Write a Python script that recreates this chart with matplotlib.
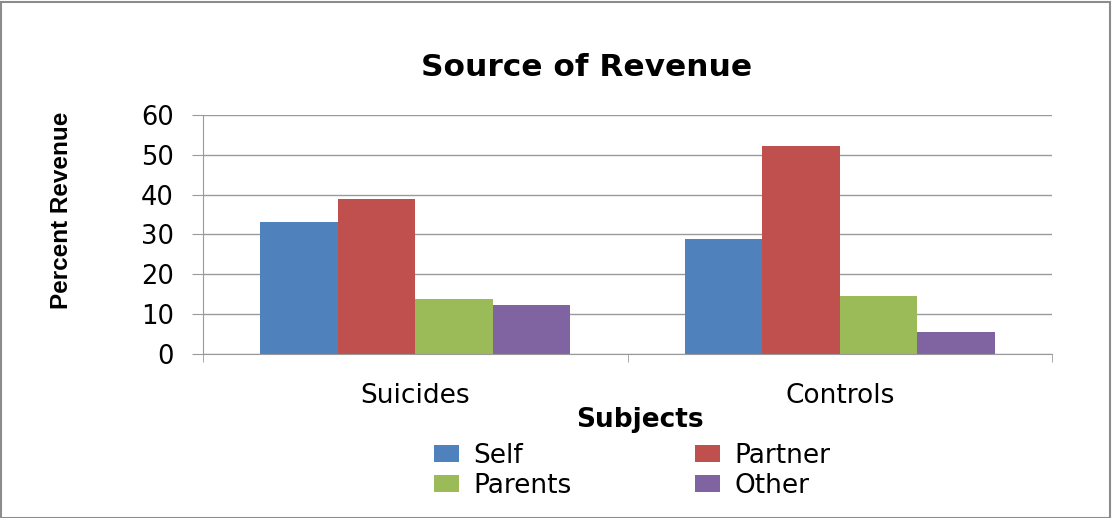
import matplotlib.pyplot as plt
import matplotlib.patches as mpatches
import numpy as np

subjects = ['Suicides', 'Controls']
sources = ['Self', 'Partner', 'Parents', 'Other']
revenue = {
    'Self': [33.2, 28.9],
    'Partner': [39.0, 52.3],
    'Parents': [13.8, 14.6],
    'Other': [12.3, 5.5],
}
colors = {
    'Self': '#4F81BD',
    'Partner': '#C0504D',
    'Parents': '#9BBB59',
    'Other': '#8064A2',
}
yticks = [0, 10, 20, 30, 40, 50, 60]

grid_gray = '#9a9a9a'

fig = plt.figure(figsize=(11.12, 5.18), dpi=100)
ax = fig.add_axes([0.1826, 0.3166, 0.946 - 0.1826, 0.778 - 0.3166])

x = np.arange(len(subjects))
w = 0.1825
bars = {}
for i, src in enumerate(sources):
    bars[src] = ax.bar(x + (i - 1.5) * w, revenue[src], width=w,
                       color=colors[src], label=src, zorder=2)

ax.set_xlim(-0.5, 1.5)
ax.set_ylim(0, 60)
ax.set_yticks(yticks)
ax.set_yticklabels([str(t) for t in yticks], fontsize=18.5, family='DejaVu Sans')
ax.set_xticks(x)
ax.set_xticklabels(subjects, fontsize=19, family='DejaVu Sans')
ax.set_xticks([-0.5, 0.5, 1.5], minor=True)

ax.tick_params(axis='y', length=8, color=grid_gray, pad=13)
ax.tick_params(axis='x', which='major', length=0, pad=21)
ax.tick_params(axis='x', which='minor', length=6, color=grid_gray)

ax.yaxis.grid(True, color=grid_gray, linewidth=1)
ax.set_axisbelow(True)
for side in ['top', 'right']:
    ax.spines[side].set_visible(False)
ax.spines['left'].set_color(grid_gray)
ax.spines['bottom'].set_color(grid_gray)

fig.text(587 / 1112, 1 - 68 / 518, 'Source of Revenue', ha='center', va='center',
         fontsize=22.5, fontweight='bold', family='DejaVu Sans')
fig.text(62 / 1112, 1 - 210 / 518, 'Percent Revenue', ha='center', va='center',
         rotation=90, fontsize=17.5, fontweight='bold', family='Liberation Sans')
fig.text(640 / 1112, 1 - 420 / 518, 'Subjects', ha='center', va='center',
         fontsize=19, fontweight='bold', family='DejaVu Sans')

# two single-column legends so the columns sit where they should
legend_kw = dict(loc='upper left', frameon=False, borderpad=0, borderaxespad=0,
                 labelspacing=0.14, handlelength=0.95, handleheight=0.6,
                 handletextpad=0.53, prop={'family': 'DejaVu Sans', 'size': 19})
fig.legend([bars['Self'], bars['Parents']], ['Self', 'Parents'],
           bbox_to_anchor=(434 / 1112, 1 - 443 / 518), **legend_kw)
fig.legend([bars['Partner'], bars['Other']], ['Partner', 'Other'],
           bbox_to_anchor=(695 / 1112, 1 - 443 / 518), **legend_kw)

# chart border
fig.patches.append(mpatches.Rectangle((0.001, 0.0), 0.997, 0.997, transform=fig.transFigure,
                                      fill=False, edgecolor='#8c8c8c', linewidth=1.5))

fig.savefig('out.png', dpi=100)
